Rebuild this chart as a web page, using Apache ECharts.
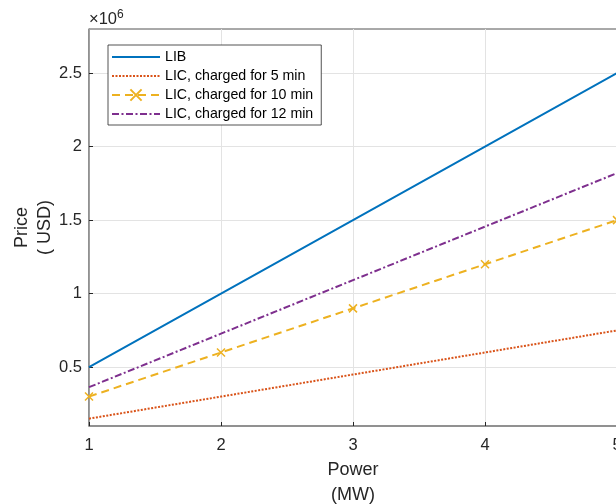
<!DOCTYPE html>
<html>
<head>
<meta charset="utf-8">
<script src="https://cdn.jsdelivr.net/npm/echarts@6/dist/echarts.min.js"></script>
<style>html,body{margin:0;padding:0;background:#fff}#c{width:616px;height:504px}</style>
</head>
<body>
<div id="c"></div>
<script>
var power = [1, 2, 3, 4, 5];
var lib = [500000, 1000000, 1500000, 2000000, 2500000];
var lic5 = [150000, 300000, 450000, 600000, 750000];
var lic10 = [300000, 600000, 900000, 1200000, 1500000];
var lic12 = [364000, 728000, 1092000, 1456000, 1820000];
var yTicks = [500000, 1000000, 1500000, 2000000, 2500000];
var names = ['LIB', 'LIC, charged for 5 min', 'LIC, charged for 10 min', 'LIC, charged for 12 min'];

function pairs(ys) { return power.map(function (x, i) { return [x, ys[i]]; }); }

var font = 'Liberation Sans, Arial, Helvetica, sans-serif';
var chart = echarts.init(document.getElementById('c'));
chart.setOption({
  animation: false,
  textStyle: { fontFamily: font },
  grid: { left: 89, top: 29, right: -1, bottom: 78, show: true, borderColor: '#262626', borderWidth: 0.8,
    outerBoundsMode: 'none', containLabel: false },
  xAxis: {
    type: 'value', min: 1, max: 5, interval: 1,
    name: 'Power\n(MW)', nameLocation: 'middle', nameGap: 32, nameMoveOverlap: false,
    nameTextStyle: { fontSize: 18, color: '#262626', lineHeight: 25, fontFamily: font, verticalAlign: 'top' },
    axisLine: { show: true, lineStyle: { color: '#8a8a8a', width: 1.5 } },
    axisTick: { show: true, inside: true, length: 4, lineStyle: { color: '#262626' } },
    axisLabel: { fontSize: 16.5, color: '#262626', margin: 11, fontFamily: font },
    splitLine: { show: true, lineStyle: { color: '#e3e3e3', width: 1 } }
  },
  yAxis: {
    type: 'value', min: 100000, max: 2800000,
    name: 'Price\n( USD)', nameLocation: 'middle', nameGap: 32, nameRotate: 90, nameMoveOverlap: false,
    nameTextStyle: { fontSize: 18, color: '#262626', lineHeight: 23, fontFamily: font },
    axisLine: { show: true, lineStyle: { color: '#8a8a8a', width: 1.5 } },
    axisTick: { show: true, inside: true, length: 4, customValues: yTicks, lineStyle: { color: '#262626' } },
    axisLabel: { fontSize: 16.5, color: '#262626', margin: 7, customValues: yTicks, fontFamily: font,
      formatter: function (v) { return String(+(v / 1e6).toFixed(2)); } },
    splitLine: { show: true, lineStyle: { color: '#e3e3e3', width: 1 } }
  },
  legend: {
    orient: 'vertical', left: 108, top: 45,
    itemWidth: 48, itemHeight: 14, itemGap: 5,
    padding: [5, 8, 4, 3],
    borderColor: '#262626', borderWidth: 0.8, backgroundColor: '#fff',
    textStyle: { fontSize: 14.2, lineHeight: 14, color: '#000', fontFamily: font },
    data: [
      { name: names[0], itemStyle: { opacity: 0 } },
      { name: names[1], itemStyle: { opacity: 0 } },
      { name: names[2] },
      { name: names[3], itemStyle: { opacity: 0 } }
    ]
  },
  graphic: [{
    type: 'text', left: 89, top: 9,
    style: { text: '{a|×10}{b|6}', fontFamily: font,
      rich: { a: { fontSize: 16.5, fill: '#262626', fontFamily: font }, b: { fontSize: 12, fill: '#262626', verticalAlign: 'top', padding: [0, 0, 8, 0], fontFamily: font } } }
  }],
  series: [
    { name: names[0], type: 'line', data: pairs(lib), symbol: 'none', lineStyle: { color: '#0072BD', width: 2 }, itemStyle: { color: '#0072BD' } },
    { name: names[1], type: 'line', data: pairs(lic5), symbol: 'none', lineStyle: { color: '#D95319', width: 2, type: [2, 1.5] }, itemStyle: { color: '#D95319' } },
    { name: names[2], type: 'line', data: pairs(lic10), symbol: 'path://M0,0L10,10M10,0L0,10', symbolSize: 8,
      lineStyle: { color: '#EDB120', width: 2, type: [8, 5] }, itemStyle: { color: '#EDB120', borderColor: '#EDB120', borderWidth: 1.5 } },
    { name: names[3], type: 'line', data: pairs(lic12), symbol: 'none', lineStyle: { color: '#7E2F8E', width: 2, type: [7, 2.5, 2, 2.5] }, itemStyle: { color: '#7E2F8E' } }
  ]
});
</script>
</body>
</html>
